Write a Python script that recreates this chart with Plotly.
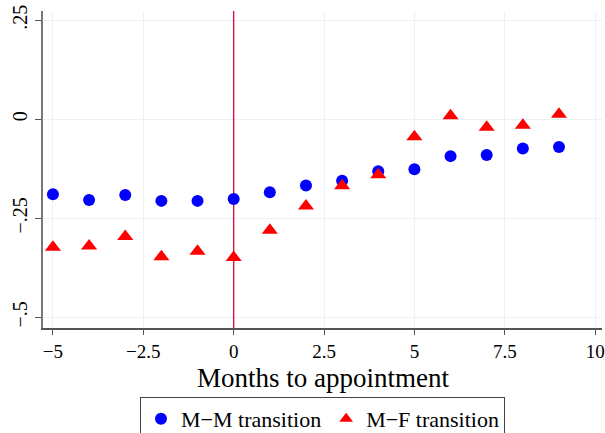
import plotly.graph_objects as go

# Event-time axis (months relative to appointment)
months = [-5, -4, -3, -2, -1, 0, 1, 2, 3, 4, 5, 6, 7, 8, 9]

# Estimated coefficients by transition type
mm_values = [-0.189, -0.204, -0.191, -0.206, -0.206, -0.201, -0.184, -0.167,
             -0.155, -0.131, -0.126, -0.093, -0.090, -0.074, -0.070]
mf_values = [-0.323, -0.320, -0.296, -0.347, -0.333, -0.349, -0.280, -0.219,
             -0.168, -0.140, -0.044, 0.009, -0.020, -0.015, 0.013]

x_ticks = [-5, -2.5, 0, 2.5, 5, 7.5, 10]
x_tick_labels = ["\u22125", "\u22122.5", "0", "2.5", "5", "7.5", "10"]
y_ticks = [0.25, 0, -0.25, -0.5]
y_tick_labels = [".25", "0", "\u2212.25", "\u2212.5"]
x_title = "Months to appointment"

x_range = [-5.275, 10.19]
y_range = [-0.527, 0.2735]
appointment_month = 0

serif = "Liberation Serif"

fig = go.Figure()
# Appointment month reference line, drawn first so markers sit on top
fig.add_trace(go.Scatter(
    x=[appointment_month, appointment_month], y=y_range, mode="lines",
    line=dict(color="#dc143c", width=1.4), showlegend=False, hoverinfo="skip",
))
fig.add_trace(go.Scatter(
    x=months, y=mm_values, mode="markers", name="M\u2212M transition",
    marker=dict(symbol="circle", size=12, color="#0000ff"),
))
fig.add_trace(go.Scatter(
    x=months, y=mf_values, mode="markers", name="M\u2212F transition",
    marker=dict(symbol="triangle-up", size=14, color="#ff0000"),
))

fig.update_layout(
    width=605, height=433,
    margin=dict(l=43, r=0, t=11, b=105),
    paper_bgcolor="white", plot_bgcolor="white",
    font=dict(family=serif, color="black", size=20),
    showlegend=True,
    legend=dict(
        orientation="h", x=0.5, xanchor="center",
        yref="container", y=1 - 397 / 433, yanchor="top",
        bordercolor="#444444", borderwidth=1, bgcolor="white",
        font=dict(family=serif, size=22, color="black"),
        itemsizing="constant", itemwidth=30,
    ),
    annotations=[dict(
        text=x_title, xref="paper", yref="paper", x=0.5, y=-0.157,
        xanchor="center", yanchor="middle", showarrow=False,
        font=dict(family=serif, size=27, color="black"),
    )],
)

fig.update_xaxes(
    range=x_range,
    tickmode="array", tickvals=x_ticks, ticktext=x_tick_labels,
    ticklabeloverflow="allow",
    showgrid=True, gridcolor="#eaf2f3", gridwidth=1,
    zeroline=False,
    showline=True, linecolor="#555555", linewidth=1.5,
    ticks="outside", ticklen=5, tickcolor="#555555",
    tickfont=dict(family=serif, size=19, color="black"),
)
fig.update_yaxes(
    range=y_range,
    tickmode="array", tickvals=y_ticks, ticktext=y_tick_labels,
    tickangle=-90,
    showgrid=True, gridcolor="#eaf2f3", gridwidth=1,
    zeroline=False,
    showline=True, linecolor="#777777", linewidth=1.5,
    ticks="outside", ticklen=6, tickcolor="#555555",
    tickfont=dict(family=serif, size=20, color="black"),
)

fig.write_html("out.html")
